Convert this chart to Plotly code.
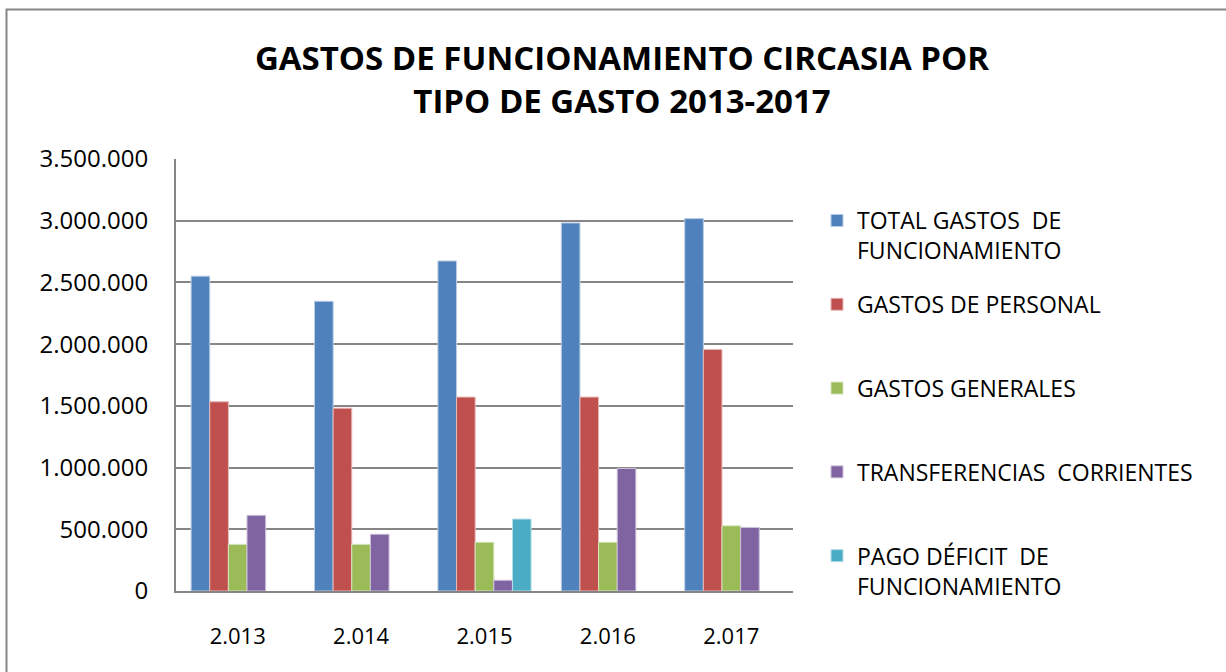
import plotly.graph_objects as go

years = ["2.013", "2.014", "2.015", "2.016", "2.017"]
total_funcionamiento = [2551000, 2347000, 2674000, 2982000, 3017000]
gastos_personal = [1533000, 1481000, 1571000, 1571000, 1957000]
gastos_generales = [378000, 378000, 395000, 395000, 528000]
transferencias = [613000, 460000, 87000, 993000, 515000]
pago_deficit = [None, None, 583000, None, None]

series_names = [
    "TOTAL GASTOS  DE<br>FUNCIONAMIENTO",
    "GASTOS DE PERSONAL<br> ",
    "GASTOS GENERALES<br> ",
    "TRANSFERENCIAS  CORRIENTES<br> ",
    "PAGO DÉFICIT  DE<br>FUNCIONAMIENTO",
]
series_values = [total_funcionamiento, gastos_personal, gastos_generales,
                 transferencias, pago_deficit]
colors = ["#4F81BD", "#C0504D", "#9BBB59", "#8064A2", "#4BACC6"]
outline = ["#B9CDE5", "#E6B9B8", "#D7E4BD", "#CCC1DA", "#B7DEE8"]

fig = go.Figure()
for i, (name, vals, c, oc) in enumerate(zip(series_names, series_values, colors, outline)):
    fig.add_trace(go.Bar(
        x=years, y=vals, name=name, legendgroup=f"g{i}",
        marker=dict(color=c, line=dict(color=oc, width=1)),
    ))

FONT = "Open Sans"
W, H = 1226, 672
L, R, T, B = 176, W - 793, 159, H - 591
pw, ph = W - L - R, H - T - B

def px(x):
    return (x - L) / pw

def py(y):
    return (H - B - y) / ph

fig.update_layout(
    width=W, height=H,
    margin=dict(l=L, r=R, t=T, b=B),
    paper_bgcolor="white", plot_bgcolor="white",
    separators=",.",
    barmode="group", bargap=0.245, bargroupgap=0,
    font=dict(family=FONT, size=21, color="black"),
    title=dict(
        text="<b>GASTOS DE FUNCIONAMIENTO CIRCASIA POR<br>TIPO DE GASTO 2013-2017</b>",
        xref="container", yref="container",
        x=622 / W, xanchor="center", y=1 - 70 / H, yanchor="middle",
        font=dict(family=FONT, size=33, color="black"),
    ),
    showlegend=True,
    legend=dict(
        x=px(817), xanchor="left", y=py(199), yanchor="top",
        font=dict(family=FONT, size=23, color="black"),
        valign="top", tracegroupgap=21, itemwidth=30,
        bgcolor="rgba(0,0,0,0)",
    ),
    xaxis=dict(
        type="category", showgrid=False, showline=True,
        linecolor="#868686", linewidth=2,
        ticks="outside", ticklen=25, tickcolor="rgba(0,0,0,0)",
        tickfont=dict(family=FONT, size=22),
    ),
    yaxis=dict(
        range=[0, 3500000], dtick=500000, tickformat=",d",
        showgrid=True, gridcolor="#868686", gridwidth=2,
        showline=True, linecolor="#868686", linewidth=2,
        ticks="outside", ticklen=21, tickcolor="rgba(0,0,0,0)",
        tickfont=dict(family=FONT, size=24),
        zeroline=False,
    ),
    shapes=[dict(
        type="rect", xref="paper", yref="paper",
        x0=px(6.5), x1=px(1240), y0=py(690), y1=py(9.5),
        line=dict(color="#868686", width=2), fillcolor="rgba(0,0,0,0)",
        layer="below",
    )],
)

fig.write_html(
    "out.html",
    config={"displayModeBar": False},
    post_script="document.body.style.margin='0';document.body.style.padding='0';",
)
